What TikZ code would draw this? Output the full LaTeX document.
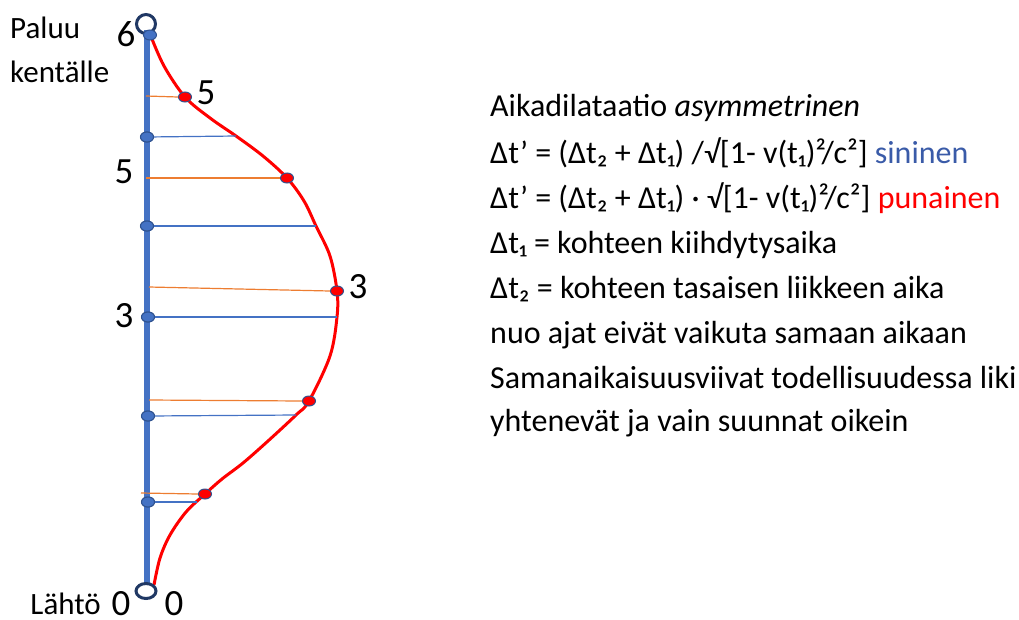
\documentclass[tikz,border=0pt]{standalone}
\usepackage{fontspec}
\setmainfont{Carlito}
\usetikzlibrary{shapes.geometric}
\definecolor{axisblue}{HTML}{4472C4}
\definecolor{navy}{HTML}{203864}
\definecolor{dotedge}{HTML}{2F528F}
\definecolor{orangeline}{HTML}{ED7D31}
\definecolor{sinblue}{HTML}{3A5BA8}
\definecolor{pured}{HTML}{FF0000}
\tikzset{
  bdot/.style={ellipse, minimum width=13pt, minimum height=10pt, inner sep=0pt, fill=axisblue, draw=dotedge, line width=1pt},
  rdot/.style={ellipse, minimum width=13pt, minimum height=10pt, inner sep=0pt, fill=pured, draw=dotedge, line width=1pt},
  bline/.style={draw=axisblue, line width=1.2pt},
  oline/.style={draw=orangeline, line width=1.2pt},
  numlbl/.style={font=\fontsize{37}{40}\selectfont, inner sep=0pt},
  wordlbl/.style={font=\fontsize{31}{36}\selectfont, inner sep=0pt},
  txt/.style={font=\fontsize{32}{36}\selectfont, anchor=base west, inner sep=0pt},
  ring/.style={ellipse, draw=navy, line width=3pt, inner sep=0pt}
}
\begin{document}
\begin{tikzpicture}[x=1pt,y=-1pt]
\useasboundingbox (0,0) rectangle (1019,619);
% axis
\coordinate (atop) at (147,30);
\coordinate (abot) at (147,584);
\draw[axisblue, line width=6pt] (atop) -- (abot);
% red curve
\draw[pured, line width=3pt] plot[smooth, tension=0.55] coordinates {
 (150,34) (164,66) (185,97) (210,118) (236,136) (263,156) (287,178) (304,201) (316,226)
 (330,256) (337,291) (337,317) (330,356) (309,401) (296,415) (268,441) (243,463)
 (222,479) (205,494) (186,512) (170,535) (160,558) (154,585)};
% curve coordinates
\coordinate (c1) at (236,136);
\coordinate (c2) at (316,226);
\coordinate (c3) at (337,317);
\coordinate (c4) at (296,415);
\coordinate (c5) at (197,502);
\coordinate (o1) at (146,96);
\coordinate (o2) at (146,178);
\coordinate (o3) at (149,287);
\coordinate (o4) at (149,400);
\coordinate (o5) at (141,493);
% rings
\node[ring, minimum width=19pt, minimum height=19pt] (top) at (146,24) {};
\node[ring, minimum width=20pt, minimum height=15pt] (bot) at (146,591) {};
\node[bdot] (b0) at (150,35) {};
% blue dots and lines
\node[bdot] (b1) at (147,137) {};
\node[bdot] (b2) at (147,226) {};
\node[bdot] (b3) at (148,317) {};
\node[bdot] (b4) at (148,416) {};
\node[bdot] (b5) at (148,502) {};
\draw[bline] (b1.center) -- (c1);
\draw[bline] (b2.center) -- (c2);
\draw[bline] (b3.center) -- (c3);
\draw[bline] (b4.center) -- (c4);
\draw[bline] (b5.center) -- (c5);
\node[bdot] at (147,137) {};
\node[bdot] at (147,226) {};
\node[bdot] at (148,317) {};
\node[bdot] at (148,416) {};
\node[bdot] at (148,502) {};
% red dots and orange lines
\node[rdot] (r1) at (185,97) {};
\node[rdot] (r2) at (287,178) {};
\node[rdot] (r3) at (337,291) {};
\node[rdot] (r4) at (309,401) {};
\node[rdot] (r5) at (205,494) {};
\draw[oline] (o1) -- (r1.west);
\draw[oline] (o2) -- (r2.west);
\draw[oline] (o3) -- (r3.west);
\draw[oline] (o4) -- (r4.west);
\draw[oline] (o5) -- (r5.west);
% labels
\node[numlbl] (l6) at (126,34) {6};
\node[numlbl] (l5a) at (206,93) {5};
\node[numlbl] (l5b) at (124,172) {5};
\node[numlbl] (l3a) at (358,287) {3};
\node[numlbl] (l3b) at (124,316) {3};
\node[numlbl] (l0a) at (121,604) {0};
\node[numlbl] (l0b) at (174,604) {0};
\node[wordlbl, anchor=west] (paluu) at (10,28) {Paluu};
\node[wordlbl, anchor=west] (kent) at (10,72) {kentälle};
\node[wordlbl, anchor=east] (lahto) at (101,604) {Lähtö};
% text block
\node[txt] (t1) at (490,116) {Aikadilataatio \textit{asymmetrinen}};
\node[txt] (t2) at (490,163) {Δt’ = (Δt₂ + Δt₁) /√[1- v(t₁)²/c²] \textcolor{sinblue}{sininen}};
\node[txt] (t3) at (490,208) {Δt’ = (Δt₂ + Δt₁) · √[1- v(t₁)²/c²] \textcolor{pured}{punainen}};
\node[txt] (t4) at (490,253) {Δt₁ = kohteen kiihdytysaika};
\node[txt] (t5) at (490,298) {Δt₂ = kohteen tasaisen liikkeen aika};
\node[txt] (t6) at (490,343) {nuo ajat eivät vaikuta samaan aikaan};
\node[txt] (t7) at (490,388) {Samanaikaisuusviivat todellisuudessa liki};
\node[txt] (t8) at (490,431) {yhtenevät ja vain suunnat oikein};
\end{tikzpicture}
\end{document}
